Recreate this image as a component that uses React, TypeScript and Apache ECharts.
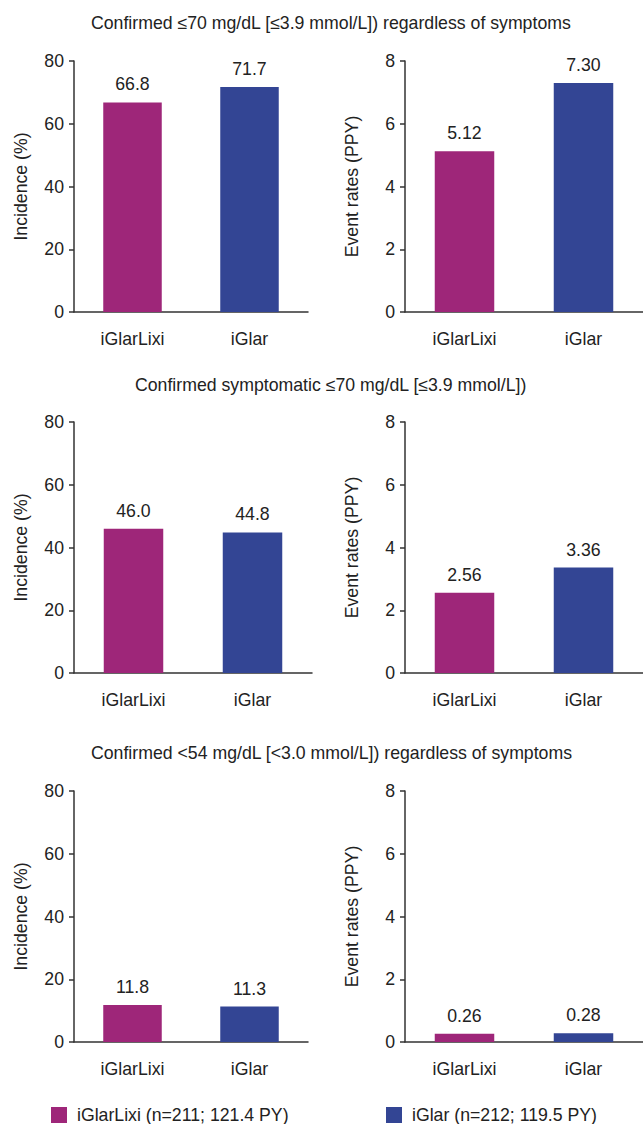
import React, { useEffect, useRef } from "react";
import * as echarts from "echarts";

const categories = ["iGlarLixi", "iGlar"];
const legendNames = ["iGlarLixi (n=211; 121.4 PY)", "iGlar (n=212; 119.5 PY)"];
const colors = ["#9E2679", "#334594"];

const panelTitles = [
  "Confirmed ≤70 mg/dL [≤3.9 mmol/L]) regardless of symptoms",
  "Confirmed symptomatic ≤70 mg/dL [≤3.9 mmol/L])",
  "Confirmed <54 mg/dL [<3.0 mmol/L]) regardless of symptoms",
];

const incidenceConfirmed = [66.8, 71.7];
const eventRateConfirmed = [5.12, 7.3];
const incidenceSymptomatic = [46.0, 44.8];
const eventRateSymptomatic = [2.56, 3.36];
const incidenceBelow54 = [11.8, 11.3];
const eventRateBelow54 = [0.26, 0.28];

const incidenceAxis = { name: "Incidence (%)", max: 80, interval: 20, decimals: 1 };
const eventAxis = { name: "Event rates (PPY)", max: 8, interval: 2, decimals: 2 };

const panels = [
  { values: incidenceConfirmed, axis: incidenceAxis },
  { values: eventRateConfirmed, axis: eventAxis },
  { values: incidenceSymptomatic, axis: incidenceAxis },
  { values: eventRateSymptomatic, axis: eventAxis },
  { values: incidenceBelow54, axis: incidenceAxis },
  { values: eventRateBelow54, axis: eventAxis },
];

// layout (pixels)
const gridBoxes = [
  { left: 74, top: 61, width: 234, height: 251 },
  { left: 405, top: 61, width: 246, height: 251 },
  { left: 74, top: 422, width: 238, height: 251 },
  { left: 405, top: 422, width: 248, height: 251 },
  { left: 74, top: 791, width: 234, height: 251 },
  { left: 405, top: 791, width: 246, height: 251 },
];
const titlePos = [
  { x: 91, y: 23 },
  { x: 135, y: 385 },
  { x: 91, y: 753 },
];

const FONT = "'Liberation Sans', Arial, Helvetica, sans-serif";
const FS = 17.7;
const TEXT = "#222";
const AXIS = "#333";

export default function App() {
  const ref = useRef<HTMLDivElement>(null);
  useEffect(() => {
    if (!ref.current) return;
    const chart = echarts.init(ref.current, null, { renderer: "svg" });

    const grid = gridBoxes.map((g) => ({ ...g, containLabel: false }));
    const xAxis = panels.map((_, i) => ({
      type: "category",
      gridIndex: i,
      data: categories,
      axisLine: { lineStyle: { color: AXIS, width: 1.5 } },
      axisTick: { show: false },
      axisLabel: { color: TEXT, fontSize: FS, fontFamily: FONT, margin: 18 },
    }));
    const yAxis = panels.map((p, i) => ({
      type: "value",
      gridIndex: i,
      min: 0,
      max: p.axis.max,
      interval: p.axis.interval,
      name: p.axis.name,
      nameLocation: "middle",
      nameRotate: 90,
      nameGap: 44,
      nameTextStyle: { color: TEXT, fontSize: FS, fontFamily: FONT },
      splitLine: { show: false },
      axisLine: { show: true, lineStyle: { color: AXIS, width: 1.5 } },
      axisTick: { show: true, length: 5, lineStyle: { color: AXIS, width: 1.5 } },
      axisLabel: { color: TEXT, fontSize: FS, fontFamily: FONT, margin: 10 },
    }));
    const series: any[] = [];
    panels.forEach((p, i) => {
      categories.forEach((_, j) => {
        series.push({
          type: "bar",
          name: legendNames[j],
          xAxisIndex: i,
          yAxisIndex: i,
          stack: "panel" + i,
          barWidth: "50%",
          data: p.values.map((v, k) => (k === j ? v : "-")),
          itemStyle: { color: colors[j] },
          label: {
            show: true,
            position: "top",
            distance: 9,
            color: TEXT,
            fontSize: FS,
            fontFamily: FONT,
            formatter: (q: any) => Number(q.value).toFixed(p.axis.decimals),
          },
        });
      });
    });

    const legendBase = {
      top: 1106,
      padding: 0,
      icon: "rect",
      itemWidth: 16,
      itemHeight: 16,
      selectedMode: false,
      textStyle: { color: TEXT, fontSize: FS, fontFamily: FONT, padding: [0, 0, 0, 5] },
    };

    chart.setOption({
      animation: false,
      textStyle: { fontFamily: FONT },
      grid,
      xAxis,
      yAxis,
      series,
      legend: [
        { ...legendBase, left: 51, data: [legendNames[0]] },
        { ...legendBase, left: 386, data: [legendNames[1]] },
      ],
      graphic: panelTitles.map((t, i) => ({
        type: "text",
        x: titlePos[i].x,
        y: titlePos[i].y,
        style: {
          text: t,
          fill: TEXT,
          fontSize: FS,
          fontFamily: FONT,
          textAlign: "left",
          textVerticalAlign: "middle",
        },
      })),
    });
    return () => chart.dispose();
  }, []);
  return (
    <div
      ref={ref}
      style={{ position: "absolute", left: 0, top: 0, width: 643, height: 1124, background: "#fff" }}
    />
  );
}
